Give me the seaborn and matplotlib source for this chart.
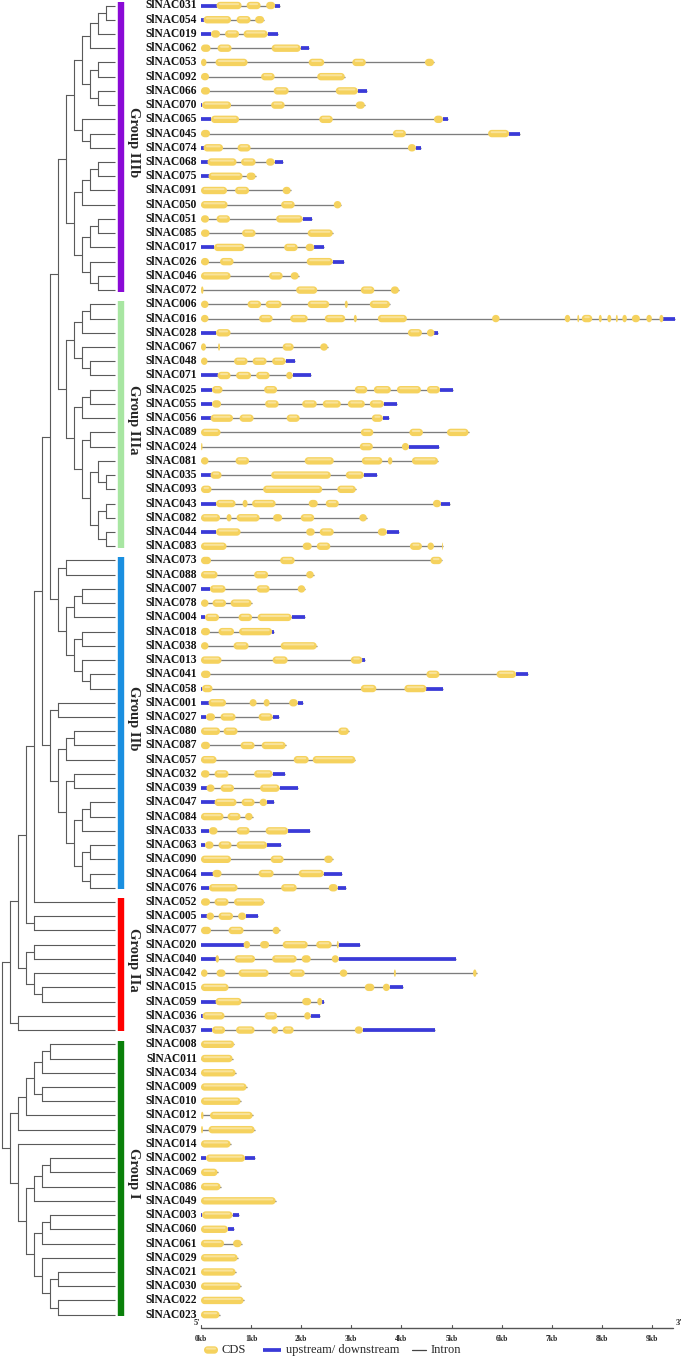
import matplotlib
matplotlib.use("Agg")
import numpy as np
import matplotlib.pyplot as plt
from matplotlib.patches import Polygon
import seaborn as sns

# ------------------------------------------------------------------ data
group_names = ["Group IIIb", "Group IIIa", "Group IIb", "Group IIa", "Group I"]
group_colors = ["#8A0AD6", "#A8E6A2", "#1A8FE0", "#FF0000", "#0A800A"]

genes_IIIb = ["031", "054", "019", "062", "053", "092", "066", "070", "065", "045", "074",
              "068", "075", "091", "050", "051", "085", "017", "026", "046", "072"]
genes_IIIa = ["006", "016", "028", "067", "048", "071", "025", "055", "056", "089", "024",
              "081", "035", "093", "043", "082", "044", "083"]
genes_IIb = ["073", "088", "007", "078", "004", "018", "038", "013", "041", "058", "001",
             "027", "080", "087", "057", "032", "039", "047", "084", "033", "063", "090",
             "064", "076"]
genes_IIa = ["052", "005", "077", "020", "040", "042", "015", "059", "036", "037"]
genes_I = ["008", "011", "034", "009", "010", "012", "079", "014", "002", "069", "086",
           "049", "003", "060", "061", "029", "021", "030", "022", "023"]

# gene structures in kb:  u = upstream/downstream (UTR), c = CDS
struct_IIIb = [
    "u0-.31 c.31-.81 c.91-1.19 c1.3-1.48 u1.48-1.57",
    "u0-.05 c.05-.6 c.71-.99 c1.08-1.26",
    "u0-.2 c.2-.38 c.48-.76 c.85-1.33 u1.33-1.53",
    "c0-.19 c.33-.61 c1.41-1.99 u1.99-2.15",
    "c0-.11 c.29-.93 c2.15-2.46 c3.02-3.29 c4.47-4.65",
    "c0-.16 c1.2-1.47 c2.32-2.87",
    "c0-.18 c1.45-1.75 c2.69-3.13 u3.13-3.32",
    "u0-.02 c.02-.6 c1.4-1.67 c3.09-3.27",
    "u0-.2 c.2-.76 c2.36-2.63 c4.65-4.83 u4.83-4.93",
    "c0-.18 c3.83-4.09 c5.73-6.15 u6.15-6.36",
    "u0-.05 c.05-.44 c.73-.99 c4.13-4.29 u4.29-4.4",
    "u0-.13 c.13-.71 c.8-1.09 c1.3-1.47 u1.47-1.63",
    "u0-.15 c.15-.83 c.91-1.09",
    "c0-.52 c.68-.96 c1.63-1.79",
    "c0-.53 c1.6-1.87 c2.65-2.8",
    "c0-.16 c.31-.58 c1.5-2.03 u2.03-2.21",
    "c0-.17 c.82-1.09 c2.13-2.63",
    "u0-.26 c.26-.87 c1.66-1.93 c2.09-2.26 u2.26-2.46",
    "c0-.16 c.38-.65 c2.11-2.63 u2.63-2.86",
    "c0-.59 c1.36-1.63 c1.79-1.95",
    "c0-.05 c1.9-2.32 c3.19-3.46 c3.79-3.95",
]
struct_IIIa = [
    "c0-.15 c.93-1.2 c1.29-1.61 c2.13-2.56 c2.87-2.93 c3.37-3.77",
    "c0-.15 c1.16-1.43 c1.78-2.13 c2.47-2.88 c3.05-3.11 c3.53-4.11 c5.81-5.96 c7.26-7.37 "
    "c7.51-7.55 c7.6-7.81 c7.94-8.0 c8.11-8.19 c8.28-8.32 c8.41-8.5 c8.6-8.76 c8.89-9.0 "
    "c9.15-9.23 u9.23-9.46",
    "u0-.3 c.3-.59 c4.13-4.41 c4.51-4.66 u4.66-4.73",
    "c0-.1 c.34-.38 c1.63-1.85 c2.38-2.53",
    "c0-.13 c.66-.93 c1.03-1.31 c1.42-1.69 u1.69-1.87",
    "u0-.33 c.33-.59 c.7-1.0 c1.1-1.37 c1.7-1.83 u1.83-2.19",
    "u0-.22 c.22-.43 c1.26-1.52 c3.07-3.32 c3.45-3.79 c3.91-4.39 c4.51-4.77 u4.77-5.02",
    "u0-.22 c.22-.4 c1.28-1.55 c2.02-2.31 c2.43-2.79 c2.93-3.27 c3.37-3.65 u3.65-3.91",
    "u0-.19 c.19-.64 c.77-1.05 c1.71-1.97 c3.41-3.63 u3.63-3.75",
    "c0-.39 c3.19-3.44 c4.16-4.43 c4.91-5.34",
    "c0-.03 c3.17-3.43 c4.01-4.15 u4.15-4.75",
    "c0-.15 c.69-.96 c2.07-2.65 c3.21-3.62 c3.73-3.82 c4.21-4.73",
    "u0-.19 c.19-.41 c1.4-2.59 c2.89-3.25 u3.25-3.51",
    "c0-.21 c1.24-2.42 c2.72-3.09",
    "u0-.3 c.3-.69 c.83-.93 c1.02-1.49 c2.15-2.33 c2.49-2.75 c4.63-4.79 u4.79-4.98",
    "c0-.38 c.51-.61 c.71-1.17 c1.44-1.62 c1.99-2.26 c3.16-3.31",
    "u0-.3 c.3-.79 c2.1-2.27 c2.37-2.65 c3.53-3.71 u3.71-3.95",
    "c0-.51 c2.03-2.21 c2.31-2.58 c4.17-4.41 c4.52-4.65 c4.81-4.83",
]
struct_IIb = [
    "c0-.2 c1.58-1.87 c4.58-4.81",
    "c0-.33 c1.06-1.34 c2.1-2.25",
    "u0-.18 c.18-.49 c1.11-1.37 c1.93-2.08",
    "c0-.15 c.23-.5 c.59-1.01",
    "u0-.08 c.08-.36 c.75-1.02 c1.13-1.81 u1.81-2.07",
    "c0-.18 c.35-.66 c.76-1.42 u1.42-1.46",
    "c0-.15 c.65-.95 c1.59-2.31",
    "c0-.41 c1.43-1.73 c2.99-3.22 u3.22-3.27",
    "c0-.19 c4.5-4.76 c5.9-6.29 u6.29-6.52",
    "u0-.02 c.02-.23 c3.19-3.5 c4.06-4.5 u4.5-4.83",
    "u0-.15 c.15-.5 c.97-1.11 c1.25-1.37 c1.76-1.93 u1.93-2.03",
    "u0-.1 c.1-.28 c.39-.69 c1.15-1.43 u1.43-1.55",
    "c0-.38 c.45-.73 c2.74-2.95",
    "c0-.18 c.79-1.07 c1.21-1.69",
    "c0-.31 c1.85-2.15 c2.23-3.08",
    "c0-.17 c.27-.55 c1.06-1.43 u1.43-1.68",
    "u0-.11 c.11-.27 c.39-.66 c1.18-1.57 u1.57-1.93",
    "u0-.27 c.27-.71 c.81-1.07 c1.17-1.32 u1.32-1.45",
    "c0-.45 c.53-.79 c.88-1.03",
    "u0-.16 c.16-.33 c.71-.97 c1.29-1.74 u1.74-2.18",
    "u0-.08 c.08-.25 c.35-.61 c.71-1.32 u1.32-1.59",
    "c0-.6 c1.39-1.65 c2.46-2.63",
    "u0-.23 c.23-.41 c1.15-1.45 c1.95-2.45 u2.45-2.82",
    "u0-.16 c.16-.73 c1.6-1.91 c2.55-2.73 u2.73-2.9",
]
struct_IIa = [
    "c0-.18 c.27-.55 c.66-1.26",
    "u0-.11 c.11-.26 c.35-.64 c.74-.9 u.9-1.14",
    "c0-.2 c.55-.85 c1.43-1.57",
    "u0-.85 c.85-.98 c1.18-1.36 c1.63-2.13 c2.3-2.61 c2.71-2.75 u2.75-3.17",
    "u0-.29 c.29-.36 c.67-1.08 c1.42-1.91 c2.01-2.19 c2.61-2.75 u2.75-5.08",
    "c0-.13 c.31-.49 c.75-1.35 c1.77-2.07 c2.77-2.92 c3.85-3.89 c5.43-5.5",
    "c0-.55 c3.27-3.46 c3.63-3.77 u3.77-4.03",
    "u0-.29 c.29-.81 c2.02-2.2 c2.32-2.42 u2.42-2.45",
    "u0-.03 c.03-.47 c1.27-1.52 c2.06-2.19 u2.19-2.38",
    "u0-.22 c.22-.48 c.7-1.07 c1.4-1.54 c1.63-1.85 c3.07-3.23 u3.23-4.67",
]
struct_I = [
    "c0-.66", "c0-.63", "c0-.69", "c0-.91", "c0-.79",
    "c0-.05 c.18-1.03", "c0-.04 c.15-1.07", "c0-.59",
    "u0-.1 c.1-.88 u.88-1.07", "c0-.33", "c0-.39", "c0-1.49",
    "u0-.02 c.02-.63 u.63-.76", "c0-.54 u.54-.65", "c0-.46 c.64-.81",
    "c0-.73", "c0-.69", "c0-.79", "c0-.85", "c0-.37",
]

kb_ticks = list(range(10))
tick_labels = [f"{k}kb" for k in kb_ticks]

# tree topology (cladogram)
tree_IIIb = ("(((((((031,054),019),062),((053,092),(066,070))),(065,(045,074))),"
             "((((068,075),091),050),(((051,085),017),(026,(046,072))))))")
tree_IIIa = ("((((006,016),028),(067,(048,071))),"
             "(((025,055),056),((089,024),((081,(035,093)),((043,082),(044,083))))))")
tree_IIb1 = "((073,088),(((007,078),004),((018,038),(013,(041,058)))))"
tree_IIb2 = "((001,027),(((080,087),057),((032,039),(((047,084),033),((063,090),(064,076))))))"
tree_IIa2 = "((020,040),(042,(015,059)))"
tree_I = ("((((((008,011),034),(009,010)),012),079),"
          "(014,((((002,069),086),049),(((003,060),061),(029,((021,030),(022,023)))))))")
tree = ("((((((((" + tree_IIIb + "," + tree_IIIa + ")," + tree_IIb1 + ")," + tree_IIb2 +
        "),052),(005,077))," + tree_IIa2 + "),(036,037))," + tree_I + ")")

# ------------------------------------------------------------------ style
sns.set_theme(style="white")
plt.rcParams["font.family"] = ["Liberation Serif", "DejaVu Serif"]

W, H = 685, 1358
fig = plt.figure(figsize=(W / 100, H / 100), dpi=100)

ROW0, ROWSTEP = 5.5, 14.23          # pixel layout of the rows
X0KB, KBPX = 201.0, 50.1            # pixel layout of the kb axis


def px2row(y):
    return (y - ROW0) / ROWSTEP


ylim = (px2row(H), px2row(0))
ax_l = fig.add_axes([0, 0, 1, 1])
ax_l.set_xlim(0, W)
ax_l.set_ylim(*ylim)
ax_g = fig.add_axes([0, 0, 1, 1])
ax_g.set_xlim(-X0KB / KBPX, (W - X0KB) / KBPX)
ax_g.set_ylim(*ylim)
for a in (ax_l, ax_g):
    a.set_axis_off()
    a.patch.set_alpha(0)
sns.despine(fig=fig, left=True, bottom=True)

groups = [genes_IIIb, genes_IIIa, genes_IIb, genes_IIa, genes_I]
structs = [struct_IIIb, struct_IIIa, struct_IIb, struct_IIa, struct_I]
all_genes = [g for grp in groups for g in grp]
row_of = {g: i for i, g in enumerate(all_genes)}

CDS_COL, CDS_HI, UTR_COL, INTRON_COL = "#F5D25E", "#F9E39A", "#3A3AD8", "#7d7d7d"
CDS_H_PX, UTR_LW = 7.4, 2.7


def pill(ax, a, b, y, xpp, ypp, h_px, color, z):
    """rounded (pill-shaped) box from a to b, xpp/ypp = data units per pixel"""
    ry = h_px / 2 * ypp
    rx = min(h_px / 2 * xpp, (b - a) / 2)
    t1 = np.linspace(-np.pi / 2, np.pi / 2, 14)
    t2 = np.linspace(np.pi / 2, 3 * np.pi / 2, 14)
    xs = np.concatenate([(b - rx) + rx * np.cos(t1), (a + rx) + rx * np.cos(t2)])
    ys = np.concatenate([y + ry * np.sin(t1), y + ry * np.sin(t2)])
    ax.add_patch(Polygon(np.column_stack([xs, ys]), closed=True, facecolor=color,
                         edgecolor="none", zorder=z))


def parse_struct(s):
    out = []
    for tok in s.split():
        a, b = tok[1:].split("-")
        out.append((tok[0], float(a), float(b)))
    return out


XPP_G, YPP = 1 / KBPX, 1 / ROWSTEP

# ---------------------------------------------------------------- gene structures
for grp, sts in zip(groups, structs):
    for g, s in zip(grp, sts):
        y = row_of[g]
        feats = parse_struct(s)
        start = min(f[1] for f in feats)
        end = max(f[2] for f in feats)
        ax_g.plot([start, end], [y, y], color=INTRON_COL, lw=0.95, zorder=1,
                  solid_capstyle="butt")
        for kind, a, b in feats:
            if kind == "u":
                ax_g.plot([a, b], [y, y], color=UTR_COL, lw=UTR_LW, zorder=2,
                          solid_capstyle="butt")
        for kind, a, b in feats:
            if kind != "c":
                continue
            pill(ax_g, a, b, y, XPP_G, YPP, CDS_H_PX, CDS_COL, 3)
            if (b - a) > 0.2:
                pill(ax_g, a + 0.05, b - 0.05, y - 1.4 * YPP, XPP_G, YPP, 2.0, CDS_HI, 4)

# kb axis
axis_row = px2row(1328)
ax_g.plot([0, 9.43], [axis_row, axis_row], color="#555555", lw=1.0, clip_on=False)
for k, lab in zip(kb_ticks, tick_labels):
    ax_g.plot([k, k], [axis_row, axis_row - 3 * YPP], color="#555555", lw=0.8)
    ax_g.text(k, px2row(1339), lab, ha="center", va="center", fontsize=5.5,
              fontweight="bold")
ax_g.text(-0.02, px2row(1323), "5'", ha="right", va="center", fontsize=6, fontweight="bold")
ax_g.text(9.48, px2row(1323), "3'", ha="left", va="center", fontsize=6, fontweight="bold")

# ---------------------------------------------------------------- gene labels
for g in all_genes:
    ax_l.text(197, row_of[g], "SlNAC" + g, ha="right", va="center", fontsize=8.3,
              fontweight="bold", color="#111111")

# ---------------------------------------------------------------- group bars and labels
for name, col, grp in zip(group_names, group_colors, groups):
    r0, r1 = row_of[grp[0]], row_of[grp[-1]]
    ax_l.plot([121, 121], [r0 - 0.25, r1 + 0.1], color=col, lw=4.6,
              solid_capstyle="butt")
    ax_l.text(134, (r0 + r1) / 2 - 0.4, name, rotation=-90, ha="center", va="center",
              fontsize=10.5, fontweight="bold")


# ---------------------------------------------------------------- dendrogram
def parse_tree(s):
    pos = 0

    def node():
        nonlocal pos
        if s[pos] == "(":
            pos += 1
            kids = [node()]
            while s[pos] == ",":
                pos += 1
                kids.append(node())
            pos += 1
            return kids
        st = pos
        while s[pos] not in ",()":
            pos += 1
        return s[st:pos]

    return node()


root = parse_tree(tree)
T_X0, T_STEP, LEAF_X = 1.8, 8.0, 115.0
TREE_COL = "#5a5a5a"


def draw(n, depth):
    if isinstance(n, str):
        return LEAF_X, row_of[n]
    if len(n) == 1:
        return draw(n[0], depth)
    pts = [draw(k, depth + 1) for k in n]
    x = T_X0 + T_STEP * depth
    ys = [p[1] for p in pts]
    ax_l.plot([x, x], [min(ys), max(ys)], color=TREE_COL, lw=0.8,
              solid_capstyle="projecting")
    for cx, cy in pts:
        ax_l.plot([x, cx], [cy, cy], color=TREE_COL, lw=0.8, solid_capstyle="butt")
    return x, (min(ys) + max(ys)) / 2


draw(root, 0)

# ---------------------------------------------------------------- legend
ly = px2row(1350)
pill(ax_l, 204, 218, ly, 1.0, YPP, CDS_H_PX, CDS_COL, 3)
pill(ax_l, 206, 216, ly - 1.4 * YPP, 1.0, YPP, 2.0, CDS_HI, 4)
ax_l.text(222, ly, "CDS", ha="left", va="center", fontsize=9)
ax_l.plot([263, 281], [ly, ly], color=UTR_COL, lw=UTR_LW, solid_capstyle="butt")
ax_l.text(286, ly, "upstream/ downstream", ha="left", va="center", fontsize=9)
ax_l.plot([412, 426], [ly, ly], color="#444444", lw=0.9)
ax_l.text(431, ly, "Intron", ha="left", va="center", fontsize=9)

fig.savefig("out.png", dpi=100)
